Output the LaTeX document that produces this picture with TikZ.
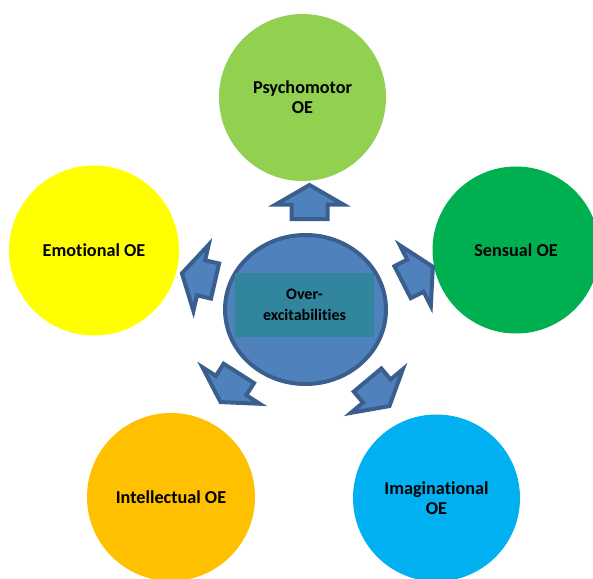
\documentclass[tikz,border=0pt]{standalone}
\usepackage{fontspec}
\setmainfont{Carlito}[Ligatures={NoCommon}]
\usetikzlibrary{shapes.arrows,shapes.geometric}
\definecolor{psycho}{HTML}{92D050}
\definecolor{sensual}{HTML}{00B050}
\definecolor{emotional}{HTML}{FFFF00}
\definecolor{intellect}{HTML}{FFC000}
\definecolor{imagin}{HTML}{00B0F0}
\definecolor{bluefill}{HTML}{4F81BD}
\definecolor{blueline}{HTML}{3A5F8E}
\definecolor{tealbox}{HTML}{31859C}
\begin{document}
\begin{tikzpicture}[x=1bp,y=-1bp,
  oe/.style={circle, minimum size=167bp, inner sep=0pt, align=center,
    font=\fontsize{18.2bp}{20bp}\selectfont\bfseries},
  blockarrow/.style={single arrow, draw=blueline, fill=bluefill, line width=4bp,
    minimum height=34bp, minimum width=64bp, single arrow head extend=16bp,
    single arrow tip angle=120, inner xsep=0pt, inner ysep=16bp, anchor=tail}
]
\useasboundingbox (0,0) rectangle (593,579);
\clip (0,0) rectangle (593,579);

\node[oe, fill=psycho] (psy) at (302.5,97.5) {Psychomotor\\OE};
\node[oe, fill=sensual] (sen) at (516,250) {Sensual OE};
\node[oe, fill=emotional, minimum size=170bp] (emo) at (94,250.5) {Emotional OE};
\node[oe, fill=intellect, minimum size=168bp] (int) at (171,497) {Intellectual OE};
\node[oe, fill=imagin] (ima) at (436.5,498) {Imaginational\\OE};

\node[ellipse, draw=blueline, line width=4bp, fill=bluefill,
  minimum width=161bp, minimum height=149bp] (ctr) at (305.5,309.5) {};
\node[fill=tealbox, minimum width=139bp, minimum height=64bp, inner sep=0pt,
  align=center, font=\fontsize{16bp}{21.5bp}\selectfont\bfseries]
  (lbl) at (304.5,305) {Over-\\excitabilities};

\node[blockarrow, rotate=90] (a1) at (309.5,221) {};
\node[blockarrow, rotate=27] (a2) at (400.8,283.1) {};
\node[blockarrow, rotate=-50] (a3) at (366.3,378.5) {};
\node[blockarrow, rotate=237.5] (a4) at (239.9,371.7) {};
\node[blockarrow, rotate=167] (a5) at (217,281.5) {};
\end{tikzpicture}
\end{document}
